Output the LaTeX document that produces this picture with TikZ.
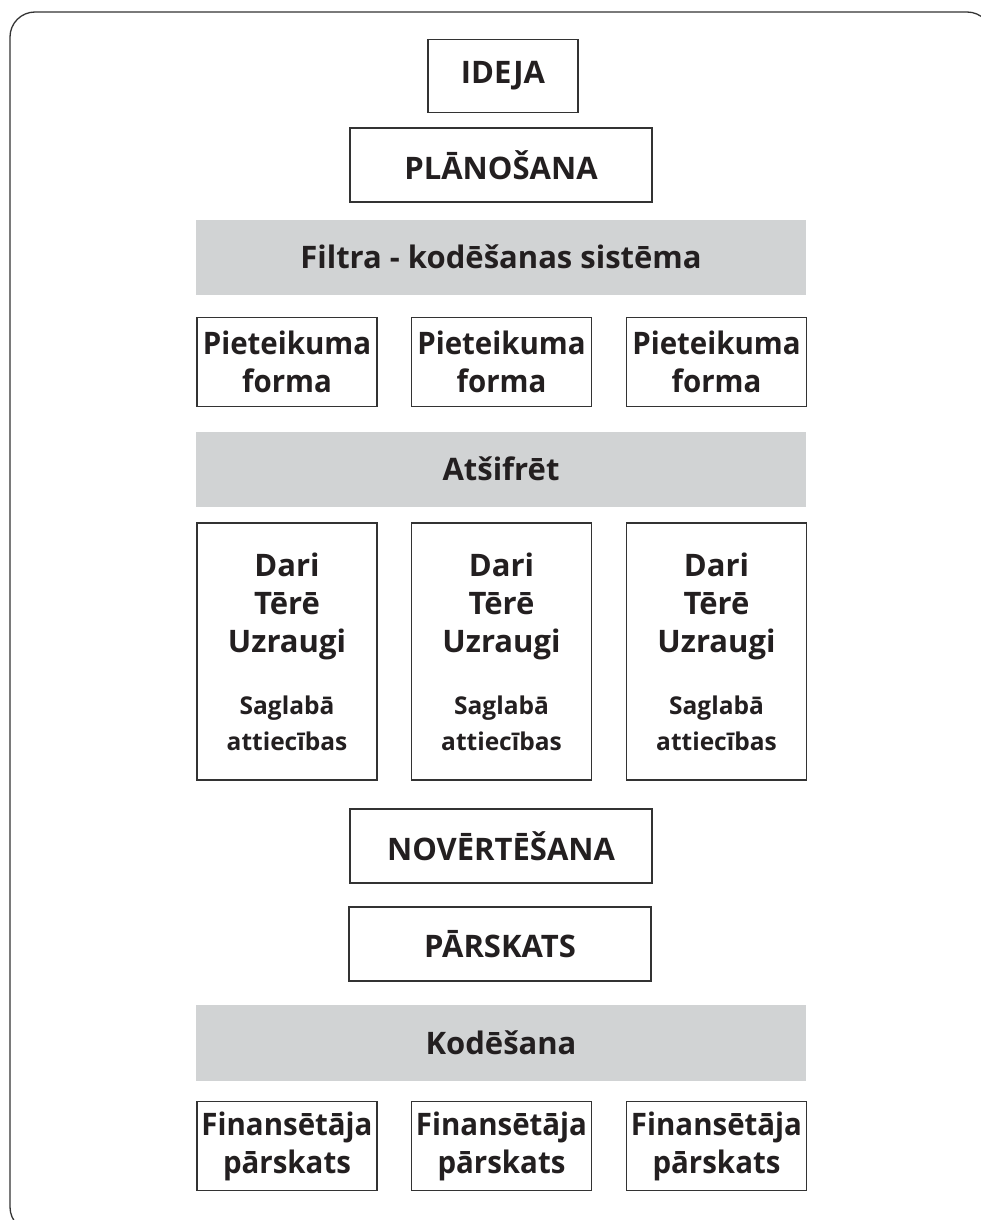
\documentclass[tikz,border=0pt]{standalone}
\usepackage{fontspec}
\setmainfont{Open Sans}
\newfontfamily\narrowfont{Open Sans}[FakeStretch=0.95]
\definecolor{txt}{HTML}{231F20}
\definecolor{barfill}{HTML}{D1D3D4}
\definecolor{edgec}{HTML}{333333}
\begin{document}
\begin{tikzpicture}[x=1pt,y=-1pt,
  every node/.style={inner sep=0pt,outer sep=0pt,text=txt,font=\bfseries\fontsize{31}{38}\selectfont,align=center},
  wbox/.style={draw=edgec,line width=1.3pt,fill=white},
  nbox/.style={wbox,minimum width=180pt,minimum height=89pt,font=\narrowfont\bfseries\fontsize{31}{38}\selectfont},
  gbar/.style={fill=barfill,minimum width=610pt,minimum height=75pt},
  small/.style={font=\bfseries\fontsize{24.5}{36}\selectfont},
  big/.style={font=\bfseries\fontsize{31}{38}\selectfont}]
\useasboundingbox (0,0) rectangle (981,1220);
\begin{scope}
\clip (0,0) rectangle (981,1220);
\draw[edgec,line width=1.3pt,rounded corners=25pt] (10,12) rectangle (992,1232);
\end{scope}
% top
\node[wbox,minimum width=150pt,minimum height=73pt] (idea) at (503,76) {IDEJA};
\node[wbox,minimum width=302pt,minimum height=74pt] (plan) at (501,165) {PLĀNOŠANA};
\node[gbar] (filtra) at (501,257) {Filtra - kodēšanas sistēma};
% application forms
\foreach \i/\x in {1/287,2/501.5,3/716.5}{
  \node[nbox] (pf\i) at (\x,362) {Pieteikuma\\forma};
}
\node[gbar] (atsifret) at (501,469) {Atšifrēt};
% dari boxes
\foreach \i/\x in {1/287,2/501.5,3/716.5}{
  \node[wbox,minimum width=180pt,minimum height=257pt] (dari\i) at (\x,651.5) {};
  \node[big,anchor=north] (dt\i) at ([yshift=-30pt]dari\i.north) {Dari\\Tērē\\Uzraugi};
  \node[small,anchor=north] (st\i) at ([yshift=-173pt]dari\i.north) {Saglabā\\attiecības};
}
\node[wbox,minimum width=302pt,minimum height=74pt] (nov) at (501,846) {NOVĒRTĒŠANA};
\node[wbox,minimum width=302pt,minimum height=74pt] (pars) at (500,944) {PĀRSKATS};
\node[gbar,minimum height=76pt] (kod) at (501,1043) {Kodēšana};
\foreach \i/\x in {1/287,2/501.5,3/716.5}{
  \node[nbox] (fin\i) at (\x,1146) {Finansētāja\\pārskats};
}
\end{tikzpicture}
\end{document}
